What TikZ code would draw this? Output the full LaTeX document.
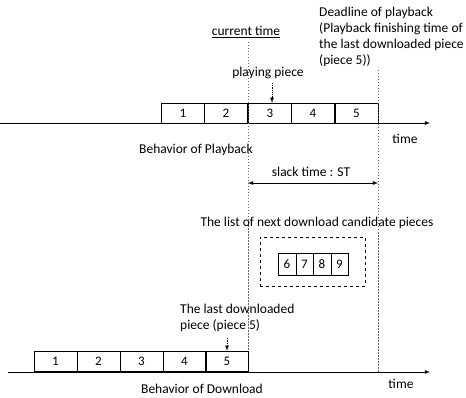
\documentclass[tikz,border=0pt]{standalone}
\usepackage{fontspec}
\setmainfont{Carlito}
\usetikzlibrary{positioning}

\begin{document}
\begin{tikzpicture}[x=1pt,y=-1pt]
        \tikzstyle{piece} = [draw, minimum width=43pt, minimum height=20pt, inner sep=0pt, font=\fontsize{13}{13}\selectfont]
        \tikzstyle{candidate} = [piece, minimum width=17.5pt, minimum height=22pt]
        \tikzstyle{label} = [font=\fontsize{13.5}{16}\selectfont, inner sep=0pt]
        \tikzstyle{timeline} = [-latex, thick]
        \tikzstyle{marker} = [draw=black!60, dash pattern=on 1.5pt off 1.5pt]
        \tikzstyle{pointer} = [-latex, thick, densely dotted]

        \useasboundingbox (0,0) rectangle (466,398);

        % playback
        \node[piece](p1) at(183, 113) {1};
        \node[piece](p2) at(226, 113) {2};
        \node[piece](p3) at(270, 113) {3};
        \node[piece](p4) at(313, 113) {4};
        \node[piece](p5) at(356.5, 113) {5};
        \coordinate(pstart) at(0, 123);
        \coordinate(pend) at(430, 123);
        \draw[timeline] (pstart) -- (pend);
        \node[label](ptime) at(405, 139) {time};
        \node[label](playback) at(196, 150) {Behavior of Playback};

        \node[label](now) at(246, 32) {\underline{current time}};
        \node[label](playing) at(268, 73) {playing piece};
        \node[label, align=left, anchor=north west](deadline) at(319, 7) {Deadline of playback\\(Playback finishing time of\\the last downloaded piece\\(piece 5))};
        \draw[pointer] (playing.south -| p3.north) ++(2,4) coordinate(pp) -- (pp |- p3.north);

        % download
        \node[piece](d1) at(55.5, 361) {1};
        \node[piece](d2) at(98.5, 361) {2};
        \node[piece](d3) at(141.5, 361) {3};
        \node[piece](d4) at(184.5, 361) {4};
        \node[piece](d5) at(227, 361) {5};
        \coordinate(dstart) at(8, 372);
        \coordinate(dend) at(430, 372);
        \draw[timeline] (dstart) -- (dend);
        \node[label](dtime) at(401, 384) {time};
        \node[label](download) at(202, 389) {Behavior of Download};
        \node[label, align=left, anchor=north west](last) at(180, 304) {The last downloaded\\piece (piece 5)};
        \draw[pointer] (d5.north) ++(0,-13) -- (d5.north);

        % slack time
        \coordinate(nowtop) at(248, 42);
        \coordinate(deadtop) at(378, 70);
        \coordinate(deadbottom) at(378, 372);
        \draw[marker] (nowtop) -- (nowtop |- d5.north);
        \draw[marker] (deadtop) -- (deadbottom);
        \coordinate(st1) at(248, 183);
        \coordinate(st2) at(378, 183);
        \draw[<->, >=latex, thick] (st1) -- (st2);
        \node[label](slack) at(311, 172) {slack time : ST};

        % candidates
        \node[label](listtitle) at(317, 223) {The list of next download candidate pieces};
        \node[draw, dashed, minimum width=105pt, minimum height=49pt](list) at(312.5, 261.5) {};
        \node[candidate](c6) at(287, 264) {6};
        \node[candidate](c7) at(304.5, 264) {7};
        \node[candidate](c8) at(322, 264) {8};
        \node[candidate](c9) at(339.5, 264) {9};
    \end{tikzpicture}
\end{document}
